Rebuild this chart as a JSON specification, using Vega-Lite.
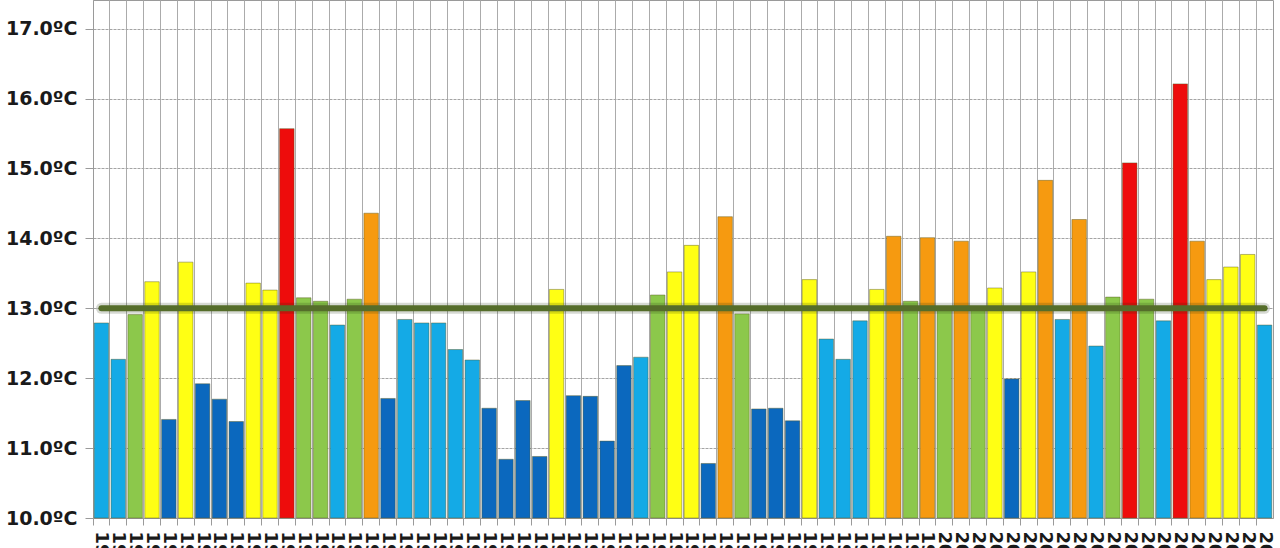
{
  "$schema": "https://vega.github.io/schema/vega-lite/v6.json",
  "autosize": {"type": "none"},
  "width": 1180,
  "height": 518,
  "padding": {"left": 93, "top": 0, "right": 7, "bottom": 30},
  "background": "#ffffff",
  "config": {
    "view": {"stroke": "#9a9a9a", "strokeWidth": 1},
    "font": "DejaVu Sans"
  },
  "datasets": {
    "temps": [
      {"year": 1950, "t": 12.79, "c": "Frío"},
      {"year": 1951, "t": 12.27, "c": "Frío"},
      {"year": 1952, "t": 12.91, "c": "Normal"},
      {"year": 1953, "t": 13.38, "c": "Cálido"},
      {"year": 1954, "t": 11.41, "c": "Muy frío"},
      {"year": 1955, "t": 13.66, "c": "Cálido"},
      {"year": 1956, "t": 11.92, "c": "Muy frío"},
      {"year": 1957, "t": 11.70, "c": "Muy frío"},
      {"year": 1958, "t": 11.38, "c": "Muy frío"},
      {"year": 1959, "t": 13.36, "c": "Cálido"},
      {"year": 1960, "t": 13.26, "c": "Cálido"},
      {"year": 1961, "t": 15.57, "c": "Extremadamente cálido"},
      {"year": 1962, "t": 13.15, "c": "Normal"},
      {"year": 1963, "t": 13.10, "c": "Normal"},
      {"year": 1964, "t": 12.76, "c": "Frío"},
      {"year": 1965, "t": 13.13, "c": "Normal"},
      {"year": 1966, "t": 14.36, "c": "Muy cálido"},
      {"year": 1967, "t": 11.71, "c": "Muy frío"},
      {"year": 1968, "t": 12.84, "c": "Frío"},
      {"year": 1969, "t": 12.79, "c": "Frío"},
      {"year": 1970, "t": 12.79, "c": "Frío"},
      {"year": 1971, "t": 12.41, "c": "Frío"},
      {"year": 1972, "t": 12.26, "c": "Frío"},
      {"year": 1973, "t": 11.57, "c": "Muy frío"},
      {"year": 1974, "t": 10.84, "c": "Muy frío"},
      {"year": 1975, "t": 11.68, "c": "Muy frío"},
      {"year": 1976, "t": 10.88, "c": "Muy frío"},
      {"year": 1977, "t": 13.27, "c": "Cálido"},
      {"year": 1978, "t": 11.75, "c": "Muy frío"},
      {"year": 1979, "t": 11.74, "c": "Muy frío"},
      {"year": 1980, "t": 11.10, "c": "Muy frío"},
      {"year": 1981, "t": 12.18, "c": "Muy frío"},
      {"year": 1982, "t": 12.30, "c": "Frío"},
      {"year": 1983, "t": 13.19, "c": "Normal"},
      {"year": 1984, "t": 13.52, "c": "Cálido"},
      {"year": 1985, "t": 13.90, "c": "Cálido"},
      {"year": 1986, "t": 10.78, "c": "Muy frío"},
      {"year": 1987, "t": 14.31, "c": "Muy cálido"},
      {"year": 1988, "t": 12.92, "c": "Normal"},
      {"year": 1989, "t": 11.56, "c": "Muy frío"},
      {"year": 1990, "t": 11.57, "c": "Muy frío"},
      {"year": 1991, "t": 11.39, "c": "Muy frío"},
      {"year": 1992, "t": 13.41, "c": "Cálido"},
      {"year": 1993, "t": 12.56, "c": "Frío"},
      {"year": 1994, "t": 12.27, "c": "Frío"},
      {"year": 1995, "t": 12.82, "c": "Frío"},
      {"year": 1996, "t": 13.27, "c": "Cálido"},
      {"year": 1997, "t": 14.03, "c": "Muy cálido"},
      {"year": 1998, "t": 13.10, "c": "Normal"},
      {"year": 1999, "t": 14.01, "c": "Muy cálido"},
      {"year": 2000, "t": 12.99, "c": "Normal"},
      {"year": 2001, "t": 13.96, "c": "Muy cálido"},
      {"year": 2002, "t": 12.98, "c": "Normal"},
      {"year": 2003, "t": 13.29, "c": "Cálido"},
      {"year": 2004, "t": 11.99, "c": "Muy frío"},
      {"year": 2005, "t": 13.52, "c": "Cálido"},
      {"year": 2006, "t": 14.83, "c": "Muy cálido"},
      {"year": 2007, "t": 12.84, "c": "Frío"},
      {"year": 2008, "t": 14.27, "c": "Muy cálido"},
      {"year": 2009, "t": 12.46, "c": "Frío"},
      {"year": 2010, "t": 13.16, "c": "Normal"},
      {"year": 2011, "t": 15.08, "c": "Extremadamente cálido"},
      {"year": 2012, "t": 13.13, "c": "Normal"},
      {"year": 2013, "t": 12.82, "c": "Frío"},
      {"year": 2014, "t": 16.21, "c": "Extremadamente cálido"},
      {"year": 2015, "t": 13.96, "c": "Muy cálido"},
      {"year": 2016, "t": 13.41, "c": "Cálido"},
      {"year": 2017, "t": 13.59, "c": "Cálido"},
      {"year": 2018, "t": 13.77, "c": "Cálido"},
      {"year": 2019, "t": 12.76, "c": "Frío"}
    ],
    "media": [
      {"year": 1950, "t": 13.0},
      {"year": 2019, "t": 13.0}
    ]
  },
  "layer": [
    {
      "data": {"name": "temps"},
      "mark": {"type": "bar", "width": {"band": 0.86}, "stroke": "#5c5c24", "strokeOpacity": 0.45, "strokeWidth": 1},
      "encoding": {
        "x": {
          "field": "year", "type": "ordinal",
          "scale": {"paddingInner": 0, "paddingOuter": 0},
          "axis": {
            "title": null,
            "bandPosition": 0,
            "grid": true,
            "gridColor": "#ababab",
            "gridWidth": 1,
            "domainColor": "#9a9a9a",
            "tickColor": "#9a9a9a",
            "tickSize": 7,
            "labelAngle": 90,
            "labelPadding": 6,
            "labelFont": "DejaVu Sans",
            "labelFontWeight": "bold",
            "labelFontSize": 18,
            "labelColor": "#1a1a1a",
            "labelOverlap": false
          }
        },
        "y": {
          "field": "t", "type": "quantitative",
          "scale": {"domain": [10, 17.41], "nice": false, "zero": false},
          "axis": {
            "title": null,
            "values": [10, 10.5, 11, 11.5, 12, 12.5, 13, 13.5, 14, 14.5, 15, 15.5, 16, 16.5, 17],
            "labelExpr": "datum.value % 1 === 0 ? format(datum.value, '.1f') + 'ºC' : ''",
            "labelFont": "DejaVu Sans",
            "labelFontWeight": "bold",
            "labelFontSize": 19,
            "labelColor": "#1a1a1a",
            "labelPadding": 8,
            "tickSize": 8,
            "tickColor": {"condition": {"test": "datum.value % 1 === 0", "value": "#9a9a9a"}, "value": "transparent"},
            "domainColor": "#9a9a9a",
            "grid": true,
            "gridColor": {"condition": {"test": "datum.value % 1 === 0", "value": "#a4a4a4"}, "value": "#e0e0e0"},
            "gridDash": {"condition": {"test": "datum.value % 1 === 0", "value": [3, 1]}, "value": []},
            "gridWidth": 1
          }
        },
        "y2": {"datum": 10},
        "color": {
          "field": "c", "type": "nominal",
          "scale": {
            "domain": ["Muy frío", "Frío", "Normal", "Cálido", "Muy cálido", "Extremadamente cálido"],
            "range": ["#0b68be", "#14aae6", "#8cc84b", "#ffff14", "#f69a10", "#ee0c0c"]
          },
          "legend": null
        }
      }
    },
    {
      "data": {"name": "media"},
      "mark": {"type": "line", "color": "#1e2a0c", "strokeWidth": 11, "opacity": 0.18, "strokeCap": "round"},
      "encoding": {
        "x": {"field": "year", "type": "ordinal"},
        "y": {"field": "t", "type": "quantitative"}
      }
    },
    {
      "data": {"name": "media"},
      "mark": {"type": "line", "color": "#556d2a", "strokeWidth": 6, "strokeCap": "round"},
      "encoding": {
        "x": {"field": "year", "type": "ordinal"},
        "y": {"field": "t", "type": "quantitative"}
      }
    }
  ]
}
